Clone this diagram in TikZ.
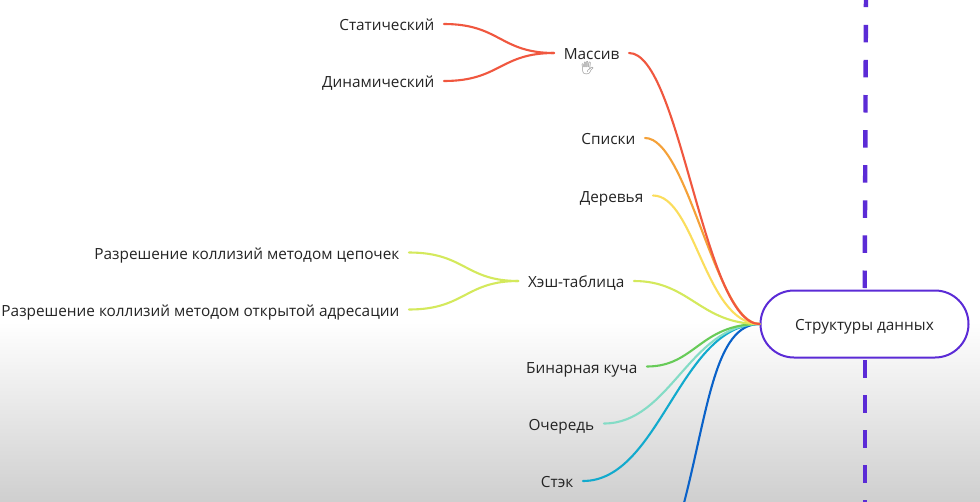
\documentclass[tikz,border=0pt]{standalone}
\usepackage{fontspec}
\setmainfont{Open Sans}
\newfontfamily\emojifont{Noto Emoji}
\usetikzlibrary{
    shapes.misc,
    positioning
}
\definecolor{rootpurple}{HTML}{5B2BD6}
\definecolor{massred}{HTML}{F0573F}
\definecolor{listorange}{HTML}{F5A138}
\definecolor{treeyellow}{HTML}{FBDD5C}
\definecolor{hashlime}{HTML}{D4E95C}
\definecolor{heapgreen}{HTML}{67CB58}
\definecolor{queueteal}{HTML}{84DCC6}
\definecolor{stackcyan}{HTML}{12AACD}
\definecolor{hiddenblue}{HTML}{0A62C9}
\definecolor{labeltext}{HTML}{242424}
\definecolor{floorgray}{HTML}{CFCFCF}

\tikzset{
    topic/.style={anchor=east, inner xsep=9.5pt, inner ysep=0pt, text height=14pt, text depth=0.6pt, text=labeltext, font=\fontsize{15.35}{18}\selectfont},
    branch/.style={line width=2.1pt, line cap=round},
    guide/.style={line width=4.4pt, rootpurple, dash pattern=on 17.5pt off 17.6pt}
}

\begin{document}
\begin{tikzpicture}[x=1pt, y=-1pt]
    \useasboundingbox (0,0) rectangle (980,501);

    % Page background
    \fill[white] (0,0) rectangle (980,330);
    \shade[top color=white, bottom color=floorgray] (0,322) rectangle (980,501);

    % Dashed guide, broken by the root
    \coordinate (guide_top) at (866,-10);
    \coordinate (guide_upper) at (864.7,288);
    \coordinate (guide_lower) at (864.7,360);
    \coordinate (guide_bottom) at (864.7,512);
    \draw[guide] (guide_upper) -- (guide_top);
    \draw[guide] (guide_lower) -- (guide_bottom);

    % Root
    \node[rounded rectangle, draw=rootpurple, line width=2pt, fill=white, minimum width=208pt, minimum height=67pt, inner xsep=0pt,
        text height=14pt, text depth=0.6pt, text=labeltext, font=\fontsize{15.35}{18}\selectfont] (root) at (864.5,324) {Структуры данных};

    % First level topics
    \node[topic] (mass) at (629,53) {Массив};
    \node[topic] (lists) at (645,138) {Списки};
    \node[topic] (trees) at (653,195.5) {Деревья};
    \node[topic] (hash) at (634,281) {Хэш-таблица};
    \node[topic] (heap) at (647,366.5) {Бинарная куча};
    \node[topic] (queue) at (604,423.5) {Очередь};
    \node[topic] (stack) at (583,481) {Стэк};

    % Second level topics
    \node[topic] (static) at (444,24) {Статический};
    \node[topic] (dynamic) at (444,81) {Динамический};
    \node[topic] (chain) at (409,252.5) {Разрешение коллизий методом цепочек};
    \node[topic] (open) at (409,309.5) {Разрешение коллизий методом открытой адресации};

    % Hand cursor
    \node[text=gray, font=\emojifont\fontsize{13}{13}\selectfont, inner sep=0pt] (cursor) at (587.5,68.5) {\char"1F590};

    % Free end of the last branch
    \coordinate (offpage) at (684,503);

    % Branches to the root
    \draw[branch, hiddenblue] (root.west) .. controls (715,324) and (708,410) .. (offpage);
    \draw[branch, stackcyan] (stack.east) .. controls (660,481) and (680,324) .. (root.west);
    \draw[branch, queueteal] (queue.east) .. controls (670,423.5) and (690,324) .. (root.west);
    \draw[branch, heapgreen] (heap.east) .. controls (695,366.5) and (700,324) .. (root.west);
    \draw[branch, hashlime] (hash.east) .. controls (690,281) and (700,324) .. (root.west);
    \draw[branch, treeyellow] (trees.east) .. controls (695,195.5) and (705,324) .. (root.west);
    \draw[branch, listorange] (lists.east) .. controls (688,138) and (716,324) .. (root.west);
    \draw[branch, massred] (mass.east) .. controls (680,53) and (704,324) .. (root.west);

    % Branches to the second level
    \draw[branch, massred] (static.east) .. controls (500,24) and (500,53) .. (mass.west);
    \draw[branch, massred] (dynamic.east) .. controls (500,81) and (500,53) .. (mass.west);
    \draw[branch, hashlime] (chain.east) .. controls (465,252.5) and (465,281) .. (hash.west);
    \draw[branch, hashlime] (open.east) .. controls (465,309.5) and (465,281) .. (hash.west);
\end{tikzpicture}
\end{document}
